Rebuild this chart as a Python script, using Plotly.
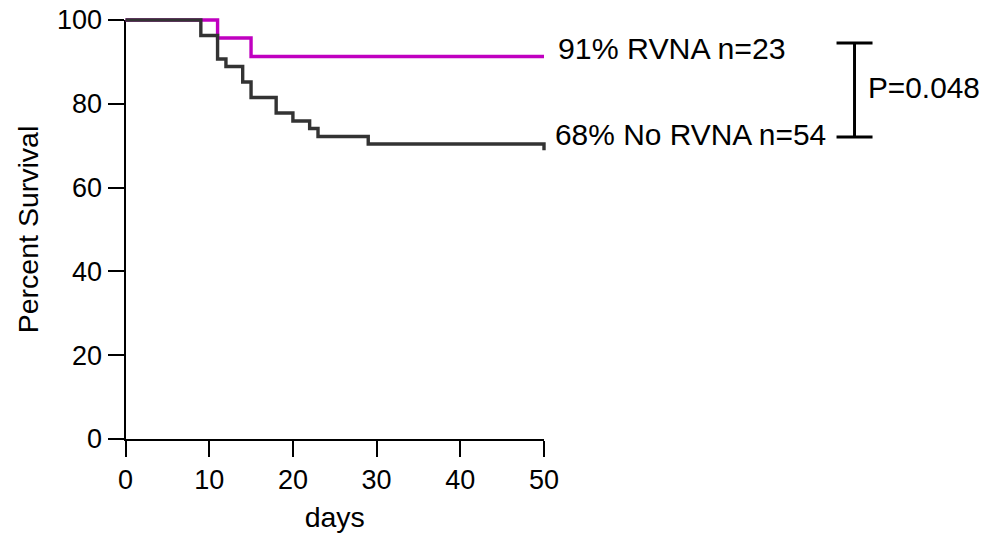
import plotly.graph_objects as go

# ---- data ----
rvna_days = [0, 11, 15, 50]
rvna_surv = [100, 95.7, 91.3, 91.3]

no_rvna_days = [0, 9, 11, 12, 14, 15, 18, 20, 22, 23, 29, 50, 50]
no_rvna_surv = [100, 96.3, 90.7, 88.9, 85.2, 81.5, 77.8, 75.9, 74.1, 72.2, 70.4, 70.4, 68.9]

x_ticks = [0, 10, 20, 30, 40, 50]
y_ticks = [0, 20, 40, 60, 80, 100]

label_rvna = "91% RVNA n=23"
label_no_rvna = "68% No RVNA n=54"
p_label = "P=0.048"
bracket_top, bracket_bottom = 94.5, 72.1
bracket_x, bracket_half = 87.1, 2.15

# ---- layout geometry ----
W, H = 994, 537
X0_PX, X50_PX = 125.5, 544.0
Y0_PX, Y100_PX = 439.0, 20.0
PAD = 14
ppd = (X50_PX - X0_PX) / 50.0
ppp = (Y0_PX - Y100_PX) / 100.0

FONT = "Liberation Sans, Arial, sans-serif"
BLACK_CURVE = "#333333"
MAGENTA = "#C000C0"

fig = go.Figure()

# empty trace so the visible axes subplot (x, y) is created
fig.add_trace(go.Scatter(x=[], y=[], xaxis="x", yaxis="y", showlegend=False, hoverinfo="skip"))

fig.add_trace(go.Scatter(x=rvna_days, y=rvna_surv, mode="lines",
                         line=dict(color=MAGENTA, width=3.4, shape="hv"),
                         xaxis="x2", yaxis="y2", showlegend=False, hoverinfo="skip"))
fig.add_trace(go.Scatter(x=no_rvna_days, y=no_rvna_surv, mode="lines",
                         line=dict(color=BLACK_CURVE, width=3.4, shape="hv"),
                         xaxis="x2", yaxis="y2", showlegend=False, hoverinfo="skip"))

# significance bracket
bx = [bracket_x - bracket_half, bracket_x + bracket_half, None,
      bracket_x, bracket_x, None,
      bracket_x - bracket_half, bracket_x + bracket_half]
by = [bracket_top, bracket_top, None, bracket_top, bracket_bottom, None,
      bracket_bottom, bracket_bottom]
fig.add_trace(go.Scatter(x=bx, y=by, mode="lines", line=dict(color="black", width=3),
                         xaxis="x2", yaxis="y2", showlegend=False, hoverinfo="skip"))

axis_common = dict(showgrid=False, zeroline=False, showline=True, linecolor="black",
                   linewidth=2, ticks="outside", ticklen=16, tickwidth=2, tickcolor="black",
                   tickfont=dict(family=FONT, size=27, color="black"),
                   automargin=False)

fig.update_layout(
    width=W, height=H,
    margin=dict(l=0, r=0, t=0, b=0),
    paper_bgcolor="white", plot_bgcolor="rgba(0,0,0,0)",
    font=dict(family=FONT, color="black"),
    xaxis=dict(domain=[X0_PX / W, X50_PX / W], range=[0, 50], tickvals=x_ticks,
               anchor="y",
               title=dict(text="days", font=dict(family=FONT, size=28.5, color="black"), standoff=13),
               **axis_common),
    yaxis=dict(domain=[1 - Y0_PX / H, 1 - Y100_PX / H], range=[0, 100], tickvals=y_ticks,
               anchor="x",
               title=dict(text="Percent Survival", font=dict(family=FONT, size=28.5, color="black"), standoff=10),
               **axis_common),
    xaxis2=dict(domain=[(X0_PX - PAD) / W, 1], range=[-PAD / ppd, (W - X0_PX) / ppd],
                anchor="y2", visible=False),
    yaxis2=dict(domain=[(H - Y0_PX - PAD) / H, 1], range=[-PAD / ppp, Y0_PX / ppp],
                anchor="x2", visible=False),
)

fig.add_annotation(x=51.45, y=93.25, xref="x2", yref="y2", text=label_rvna, showarrow=False,
                   xanchor="left", yanchor="middle",
                   font=dict(family=FONT, size=30.3, color="black"))
fig.add_annotation(x=51.1, y=72.7, xref="x2", yref="y2", text=label_no_rvna, showarrow=False,
                   xanchor="left", yanchor="middle",
                   font=dict(family=FONT, size=29.9, color="black"))
fig.add_annotation(x=88.46, y=83.8, xref="x2", yref="y2", text=p_label, showarrow=False,
                   xanchor="left", yanchor="middle",
                   font=dict(family=FONT, size=29.8, color="black"))

fig.write_html("out.html")
